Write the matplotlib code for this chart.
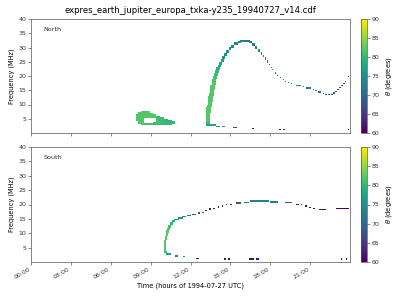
import matplotlib
matplotlib.use("Agg")
import matplotlib.pyplot as plt
from matplotlib import cm
from matplotlib.colors import Normalize

# ---- data (time in hours, frequency in MHz, theta in degrees)
# North: filled blocks (t0, t1, f0, f1, theta)
north_t0 = [7.91, 8.06, 8.25, 8.48, 8.48, 8.70, 8.70, 8.93, 8.93, 9.15, 9.15, 9.38, 9.68, 9.98, 10.28, 10.58,
            13.13, 13.13, 13.13, 13.13, 13.16, 13.20, 13.24, 13.28, 13.31, 13.35, 13.39, 13.43, 13.46, 13.50,
            13.58, 13.65, 13.73, 13.80, 13.88, 13.95, 14.06, 14.18, 14.29, 14.40, 14.55, 14.70, 14.89, 15.08,
            15.30, 15.60, 15.75, 16.40, 16.65, 16.88, 17.08, 17.27, 17.42, 17.57, 17.72, 13.20, 13.90]
north_t1 = [8.06, 8.25, 8.48, 8.70, 8.70, 8.93, 8.93, 9.15, 9.15, 9.38, 9.38, 9.68, 9.98, 10.28, 10.58, 10.80,
            13.50, 13.46, 13.46, 13.48, 13.52, 13.56, 13.60, 13.63, 13.67, 13.71, 13.75, 13.78, 13.82, 13.86,
            13.91, 13.95, 14.03, 14.10, 14.18, 14.25, 14.33, 14.40, 14.51, 14.63, 14.78, 14.93, 15.08, 15.30,
            15.60, 15.80, 16.45, 16.65, 16.85, 17.03, 17.22, 17.38, 17.53, 17.68, 17.83, 13.90, 14.20]
north_f0 = [4.2, 3.3, 2.8, 2.8, 5.3, 2.8, 5.4, 2.8, 5.4, 2.8, 5.2, 2.8, 2.8, 2.8, 2.9, 3.1,
            3, 4, 5, 6, 7, 8, 9, 10, 11, 12, 13, 14, 15, 16,
            17, 18, 19, 20, 21, 22, 23, 24, 25, 26, 27, 28, 29, 30,
            31, 31.6, 32.0, 31.5, 30.5, 29.5, 28.5, 27.5, 26.5, 25.5, 24.5, 2.6, 2.1]
north_f1 = [6.8, 7.5, 7.8, 3.6, 7.8, 3.5, 7.6, 3.5, 7.1, 3.7, 6.6, 6.1, 5.5, 5.0, 4.6, 4.2,
            4, 5, 6, 7, 8, 9, 10, 11, 12, 13, 14, 15, 16, 17,
            18, 19, 20, 21, 22, 23, 24, 25, 26, 27, 28, 29, 30, 31,
            32, 32.4, 32.8, 32.2, 31.5, 30.5, 29.5, 28.5, 27.5, 26.5, 25.5, 3.1, 2.6]
north_theta = [82, 82, 82, 81, 82, 81, 82, 81, 82, 80.5, 82, 81, 80.5, 80, 80, 80,
               80.5, 82, 82, 82, 82, 82, 82, 82, 82, 82, 82, 82, 82, 82,
               82, 81.5, 81, 80.5, 80, 79, 78, 77.5, 77, 76, 75.5, 75, 74.5, 74,
               73.5, 73, 72.5, 72.5, 72.5, 72.5, 73, 73, 73, 73, 73, 78, 76]

# North: short dashes (t0, t1, f, theta)
north_dash_t0 = [14.40, 15.20, 16.60, 18.65, 18.95, 23.82, 19.91, 20.66, 21.19, 21.60]
north_dash_t1 = [14.62, 15.50, 16.75, 18.80, 19.10, 23.95, 20.29, 21.04, 21.30, 21.83]
north_dash_f = [2.2, 1.9, 1.5, 1.2, 1.2, 1.2, 16.7, 15.75, 15.3, 14.35]
north_dash_theta = [74, 66, 61, 61.5, 61.5, 61, 72, 72, 71, 70]

# North: single dots (t, f, theta)
north_dot_t = [17.96, 18.08, 18.19, 18.38, 18.53, 18.79, 18.98, 19.16, 19.35, 19.58, 20.51, 21.45,
               22.01, 22.20, 22.43, 22.65, 22.80, 22.95, 23.10, 23.25, 23.40, 23.55, 23.66, 23.89]
north_dot_f = [24.1, 23.0, 22.2, 21.1, 20.2, 19.5, 18.7, 18.0, 17.6, 17.3, 16.2, 14.8,
               13.9, 13.6, 13.4, 13.6, 14.0, 14.6, 15.3, 15.9, 16.6, 17.4, 18.1, 19.9]
north_dot_theta = [73, 73, 73, 73, 73, 73, 73, 72.5, 72.5, 72.5, 72, 70,
                   69, 68.5, 68, 67.5, 67.5, 67, 67, 67, 67, 67, 67, 66]

# South: filled blocks
south_t0 = [9.98, 10.05, 10.13, 10.16, 10.24, 10.31, 10.43, 10.58, 10.76, 11.03, 11.33, 9.98, 10.18]
south_t1 = [10.16, 10.24, 10.31, 10.35, 10.43, 10.54, 10.65, 10.84, 11.10, 11.40, 11.63, 10.20, 10.55]
south_f0 = [4.0, 7.5, 9.0, 10.0, 11.0, 12.0, 13.0, 13.8, 14.5, 15.1, 15.6, 3.0, 2.3]
south_f1 = [7.5, 9.0, 10.0, 11.0, 12.0, 13.0, 13.8, 14.5, 15.1, 15.6, 16.0, 4.0, 3.0]
south_theta = [82, 82, 82, 82, 81.5, 81, 79.5, 78, 76.5, 75.5, 74.5, 80.5, 77]

# South: short dashes
south_dash_t0 = [11.70, 12.08, 12.53, 12.90, 15.41, 16.05, 16.50, 18.00, 19.13, 19.93, 20.30, 21.68, 22.97,
                 10.80, 11.42, 12.41, 14.55, 14.80, 16.43, 16.93, 23.30, 23.68]
south_dash_t1 = [12.00, 12.38, 12.75, 13.05, 15.79, 16.43, 17.93, 18.60, 19.63, 20.18, 20.42, 22.18, 23.90,
                 11.03, 11.55, 12.64, 14.68, 14.98, 16.80, 17.18, 23.42, 23.80]
south_dash_f = [16.2, 16.6, 17.0, 17.3, 20.5, 20.8, 21.2, 20.9, 20.6, 20.1, 19.9, 18.2, 18.5,
                2.1, 1.85, 1.3, 1.05, 1.05, 1.05, 1.05, 1.05, 1.05]
south_dash_theta = [72.5, 70, 67, 65, 68, 71, 73, 72, 68, 62, 61.5, 61, 60.5,
                    74, 73, 61, 61, 61, 61, 61, 61, 61]

# South: single dots
south_dot_t = [13.16, 13.46, 13.76, 14.10, 14.40, 14.70, 15.04, 20.68, 20.98, 21.30]
south_dot_f = [17.9, 18.4, 18.7, 19.1, 19.5, 19.9, 20.1, 19.5, 18.9, 18.6]
south_dot_theta = [62, 62, 62, 62, 63, 64, 65, 61, 61, 61]

hour_ticks = [0, 3, 6, 9, 12, 15, 18, 21]
freq_ticks = [5, 10, 15, 20, 25, 30, 35, 40]
theta_ticks = [60, 65, 70, 75, 80, 85, 90]

DASH_H = 0.45
DOT_W = 0.1

cmap = plt.get_cmap("viridis")
norm = Normalize(vmin=60, vmax=90)


def draw_panel(ax, t0, t1, f0, f1, th, dt0, dt1, df, dth, pt, pf, pth):
    # big blocks
    ax.bar(t0, [b - a for a, b in zip(f0, f1)], width=[b - a for a, b in zip(t0, t1)], bottom=f0,
           align="edge", color=cmap(norm(th)), linewidth=0, antialiased=False)
    # dashes
    ax.bar(dt0, DASH_H, width=[b - a for a, b in zip(dt0, dt1)], bottom=[f - DASH_H / 2 for f in df],
           align="edge", color=cmap(norm(dth)), linewidth=0, antialiased=False)
    # dots
    ax.bar([t - DOT_W / 2 for t in pt], DASH_H, width=DOT_W, bottom=[f - DASH_H / 2 for f in pf],
           align="edge", color=cmap(norm(pth)), linewidth=0, antialiased=False)


fig = plt.figure(figsize=(4, 3), dpi=100)
ax1 = fig.add_axes([31 / 400, 1 - 133 / 300, 319 / 400, 114 / 300])
ax2 = fig.add_axes([31 / 400, 1 - 262 / 300, 319 / 400, 115 / 300])
cax1 = fig.add_axes([360.5 / 400, 1 - 133 / 300, 6.5 / 400, 114 / 300])
cax2 = fig.add_axes([360.5 / 400, 1 - 262 / 300, 6.5 / 400, 115 / 300])

draw_panel(ax1, north_t0, north_t1, north_f0, north_f1, north_theta,
           north_dash_t0, north_dash_t1, north_dash_f, north_dash_theta,
           north_dot_t, north_dot_f, north_dot_theta)
draw_panel(ax2, south_t0, south_t1, south_f0, south_f1, south_theta,
           south_dash_t0, south_dash_t1, south_dash_f, south_dash_theta,
           south_dot_t, south_dot_f, south_dot_theta)

for ax, name in [(ax1, "North"), (ax2, "South")]:
    ax.set_xlim(0, 24)
    ax.set_ylim(0, 40)
    ax.set_yticks(freq_ticks)
    ax.set_xticks(hour_ticks)
    ax.set_ylabel("Frequency (MHz)", fontsize=4.8, labelpad=2)
    ax.tick_params(labelsize=4.5, width=0.4, length=2, pad=1.5, colors="#333333")
    for s in ax.spines.values():
        s.set_linewidth(0.5)
        s.set_color("#555555")
    ax.text(0.04, 0.93, name, transform=ax.transAxes, fontsize=4.6, va="top", ha="left", color="#333333")

ax1.set_xticklabels([])
ax2.set_xticklabels(["%02d:00" % h for h in hour_ticks], rotation=30, ha="right")
ax2.set_xlabel("Time (hours of 1994-07-27 UTC)", fontsize=4.8, labelpad=2)
ax1.set_title("expres_earth_jupiter_europa_txka-y235_19940727_v14.cdf", fontsize=6.1, pad=4)

sm = cm.ScalarMappable(norm=norm, cmap=cmap)
for cax in (cax1, cax2):
    cb = fig.colorbar(sm, cax=cax, ticks=theta_ticks)
    cb.set_label(r"$\theta$ (degrees)", fontsize=4.8, labelpad=3)
    cb.ax.tick_params(labelsize=4.5, width=0.4, length=2, pad=1.5, colors="#333333")
    cb.outline.set_linewidth(0.5)
    cb.outline.set_edgecolor("#555555")

fig.savefig("out.png", dpi=100)
